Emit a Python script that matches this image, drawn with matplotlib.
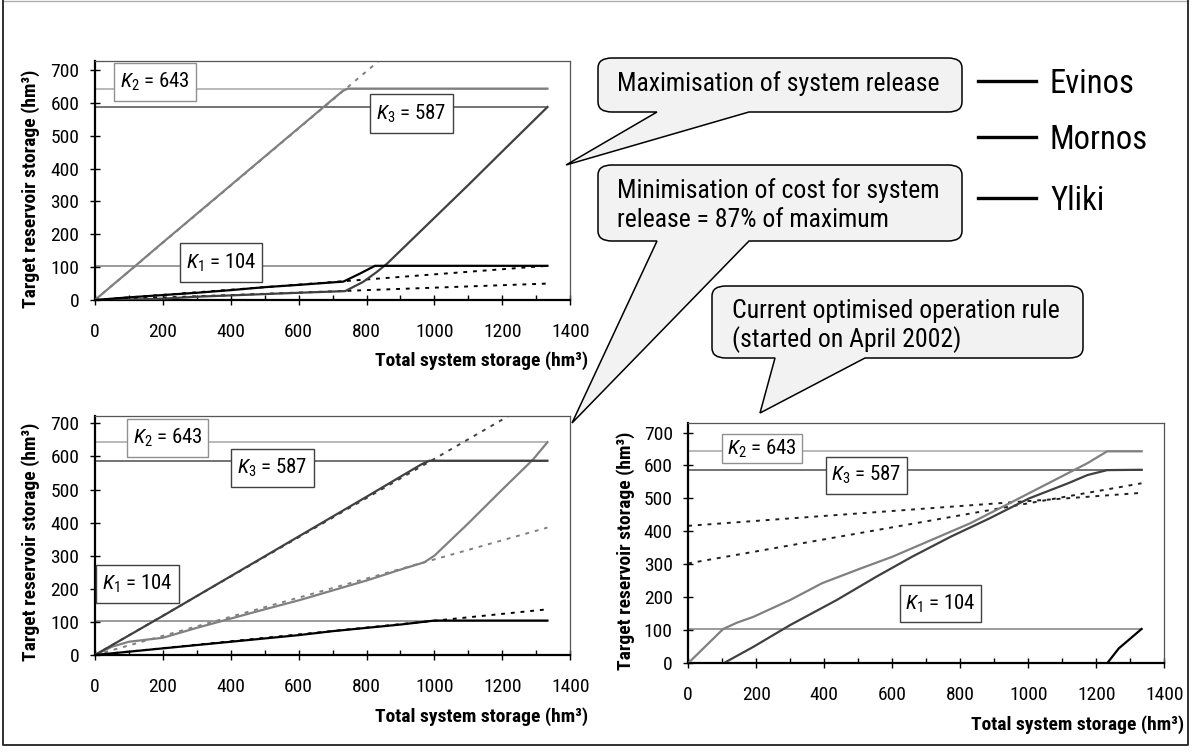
import matplotlib
matplotlib.use('Agg')
import matplotlib.pyplot as plt
from matplotlib import font_manager as fm
from matplotlib.path import Path
from matplotlib.patches import PathPatch, Rectangle
from matplotlib.lines import Line2D

names = {f.name for f in fm.fontManager.ttflist}
NARROW = 'Liberation Sans'
for cand in ['Liberation Sans Narrow', 'Arial Narrow', 'Roboto Condensed',
             'Archivo Narrow', 'Asap Condensed']:
    if cand in names:
        NARROW = cand
        break
plt.rcParams['font.family'] = [NARROW, 'DejaVu Sans']
plt.rcParams['mathtext.fontset'] = 'custom'
plt.rcParams['mathtext.rm'] = NARROW
plt.rcParams['mathtext.it'] = NARROW + ':italic'

W, H = 1192, 753
EVINOS_C = '#808080'
MORNOS_C = '#404040'
YLIKI_C = '#000000'

K1, K2, K3 = 104, 643, 587
S_MAX = 1333

# --- panel A: maximisation of system release
a_evinos_x = [0, 100, 200, 300, 400, 500, 600, 700, 730, 745, 1333]
a_evinos_y = [0, 87, 175, 262, 349, 436, 523, 610, 636, 643, 643]
a_mornos_x = [0, 100, 200, 300, 400, 500, 600, 737, 790, 830, 860, 1000, 1100, 1200, 1333]
a_mornos_y = [0, 1, 4, 10, 14, 18, 22, 27, 55, 85, 110, 250, 350, 452, 587]
a_yliki_x = [0, 100, 200, 300, 400, 500, 600, 732, 780, 825, 1333]
a_yliki_y = [0, 8, 15, 22, 30, 39, 46, 56, 80, 104, 104]
a_dotted = [([0, 836], [0, 727], EVINOS_C),
            ([0, 1333], [0, 50], '#000000'),
            ([0, 1333], [0, 104], '#000000')]

# --- panel B: minimisation of cost (release = 87% of max)
b_evinos_x = [0, 50, 100, 200, 300, 400, 500, 600, 700, 800, 900, 970, 1000,
              1100, 1200, 1290, 1333]
b_evinos_y = [0, 25, 40, 52, 82, 110, 138, 165, 195, 225, 258, 280, 300,
              398, 500, 590, 643]
b_mornos_x = [0, 200, 400, 600, 800, 960, 985, 1333]
b_mornos_y = [0, 118, 238, 358, 478, 575, 587, 587]
b_yliki_x = [0, 100, 200, 300, 400, 500, 600, 700, 800, 900, 1000, 1333]
b_yliki_y = [0, 10, 20, 30, 40, 50, 60, 72, 82, 92, 104, 104]
b_dotted = [([0, 1333], [0, 385], EVINOS_C),
            ([0, 1220], [0, 723], MORNOS_C),
            ([0, 1333], [0, 138], '#000000')]

# --- panel C: current optimised operation rule
c_evinos_x = [0, 103, 143, 192, 300, 394, 508, 600, 715, 830, 944, 1059, 1174, 1232, 1333]
c_evinos_y = [0, 104, 123, 141, 192, 243, 288, 323, 374, 425, 485, 546, 607, 643, 643]
c_mornos_x = [104, 192, 300, 437, 554, 658, 772, 887, 1002, 1117, 1174, 1232, 1333]
c_mornos_y = [0, 50, 116, 192, 263, 323, 384, 440, 500, 546, 571, 586, 587]
c_yliki_x = [0, 1232, 1266, 1333]
c_yliki_y = [0, 0, 45, 104]
c_dotted = [([0, 1333], [417, 517], '#202020'),
            ([0, 1333], [303, 546], '#202020')]

fig = plt.figure(figsize=(W / 100, H / 100), dpi=100)


def px_axes(left, top, right, bottom):
    return fig.add_axes([left / W, 1 - bottom / H, (right - left) / W, (bottom - top) / H])


def kbox(ax, x0, x1, y0, y1, label, ec):
    ax.add_patch(Rectangle((x0, y0), x1 - x0, y1 - y0, facecolor='white',
                           edgecolor=ec, lw=1.0, zorder=6))
    ax.text((x0 + x1) / 2, (y0 + y1) / 2, label, ha='center', va='center',
            fontsize=15, zorder=7)


def panel(ax, ymax, ex, ey, mx, my, yx, yy, dotted, boxes):
    for xs, ys, c in dotted:
        ax.plot(xs, ys, color=c, lw=1.4, ls=(0, (2, 3)), zorder=2)
    ax.plot([0, S_MAX], [K2, K2], color='#a6a6a6', lw=1.1, zorder=1)
    ax.plot([0, S_MAX], [K3, K3], color='#4d4d4d', lw=1.1, zorder=1)
    ax.plot([0, S_MAX], [K1, K1], color='#808080', lw=1.1, zorder=1)
    ax.plot(ex, ey, color=EVINOS_C, lw=1.6, zorder=3)
    ax.plot(mx, my, color=MORNOS_C, lw=1.6, zorder=3)
    ax.plot(yx, yy, color=YLIKI_C, lw=1.6, zorder=3)
    for b in boxes:
        kbox(ax, *b)
    ax.set_xlim(0, 1400)
    ax.set_ylim(0, ymax)
    ax.set_xticks(range(0, 1401, 200))
    ax.set_xticks(range(100, 1400, 200), minor=True)
    ax.set_yticks(range(0, 701, 100))
    ax.tick_params(axis='x', which='major', direction='inout', length=7.2, width=1,
                   pad=13, labelsize=14)
    ax.tick_params(axis='x', which='minor', direction='in', length=3.4, width=1)
    ax.tick_params(axis='y', which='major', direction='inout', length=7.2, width=1,
                   pad=7.5, labelsize=14)
    for s in ('left', 'bottom'):
        ax.spines[s].set_linewidth(1.6)
        ax.spines[s].set_color('black')
    for s in ('top', 'right'):
        ax.spines[s].set_linewidth(0.9)
        ax.spines[s].set_color('#555555')


axA = px_axes(94.9, 61, 570.2, 300)
panel(axA, 727, a_evinos_x, a_evinos_y, a_mornos_x, a_mornos_y, a_yliki_x, a_yliki_y,
      a_dotted,
      [(55, 298, 605, 720, r'$K_{2}$ = 643', '#909090'),
       (810, 1054, 509, 626, r'$K_{3}$ = 587', '#404040'),
       (251, 492, 54, 172, r'$K_{1}$ = 104', '#404040')])

axB = px_axes(94.9, 415.7, 570.2, 655)
panel(axB, 723, b_evinos_x, b_evinos_y, b_mornos_x, b_mornos_y, b_yliki_x, b_yliki_y,
      b_dotted,
      [(96, 333, 597, 713, r'$K_{2}$ = 643', '#909090'),
       (402, 645, 507, 622, r'$K_{3}$ = 587', '#404040'),
       (2, 247, 156, 272, r'$K_{1}$ = 104', '#404040')])

axC = px_axes(688.1, 423.3, 1164.3, 663.3)
panel(axC, 728, c_evinos_x, c_evinos_y, c_mornos_x, c_mornos_y, c_yliki_x, c_yliki_y,
      c_dotted,
      [(101, 334, 607, 695, r'$K_{2}$ = 643', '#909090'),
       (405, 644, 514, 627, r'$K_{3}$ = 587', '#404040'),
       (623, 862, 124, 237, r'$K_{1}$ = 104', '#404040')])

# overlay in pixel coordinates for titles, callouts, legend and frame
ov = fig.add_axes([0, 0, 1, 1], zorder=10)
ov.set_xlim(0, W)
ov.set_ylim(H, 0)
ov.axis('off')
ov.patch.set_alpha(0)

ylab = 'Target reservoir storage (hm³)'
xlab = 'Total system storage (hm³)'
for x, y in [(30.5, 189), (30.5, 542), (626, 551)]:
    ov.text(x, y, ylab, rotation=90, ha='center', va='center', fontsize=14,
            fontweight='bold')
for x, y in [(588, 361), (588, 717), (1184, 725)]:
    ov.text(x, y, xlab, ha='right', va='center', fontsize=14, fontweight='bold')


def callout(x0, y0, x1, y1, b0, b1, tip, rx=14, ry=10):
    verts = [(x0 + rx, y0), (x1 - rx, y0), (x1, y0), (x1, y0 + ry),
             (x1, y1 - ry), (x1, y1), (x1 - rx, y1),
             (b1, y1), tip, (b0, y1),
             (x0 + rx, y1), (x0, y1), (x0, y1 - ry),
             (x0, y0 + ry), (x0, y0), (x0 + rx, y0), (x0 + rx, y0)]
    codes = [Path.MOVETO, Path.LINETO, Path.CURVE3, Path.CURVE3,
             Path.LINETO, Path.CURVE3, Path.CURVE3,
             Path.LINETO, Path.LINETO, Path.LINETO,
             Path.LINETO, Path.CURVE3, Path.CURVE3,
             Path.LINETO, Path.CURVE3, Path.CURVE3, Path.CLOSEPOLY]
    ov.add_patch(PathPatch(Path(verts, codes), facecolor='#f2f2f2',
                           edgecolor='black', lw=1.1))


callout(598, 58, 962, 112, 657, 749, (566, 165))
ov.text(617, 91, 'Maximisation of system release', fontsize=18.5, va='baseline')
callout(598, 165, 962, 241, 657, 749, (572, 423))
ov.text(617, 198, 'Minimisation of cost for system', fontsize=18.5, va='baseline')
ov.text(617, 227, 'release = 87% of maximum', fontsize=18.5, va='baseline')
callout(712, 286, 1083, 358, 775, 865, (760, 413))
ov.text(732, 318, 'Current optimised operation rule', fontsize=18.5, va='baseline')
ov.text(732, 347, '(started on April 2002)', fontsize=18.5, va='baseline')

for name, y, yb in [('Evinos', 81, 93), ('Mornos', 137, 149), ('Yliki', 198, 210)]:
    ov.add_line(Line2D([978, 1036], [y, y], color='black', lw=2.4))
    ov.text(1050, yb, name, fontsize=23.5, va='baseline')

# figure frame
ov.add_line(Line2D([3, 1188], [1, 1], color='#b0b0b0', lw=1.0))
ov.add_line(Line2D([3, 3, 1188, 1188], [1, 745, 745, 1], color='#303030', lw=1.4))

fig.savefig('out.png', dpi=100)
